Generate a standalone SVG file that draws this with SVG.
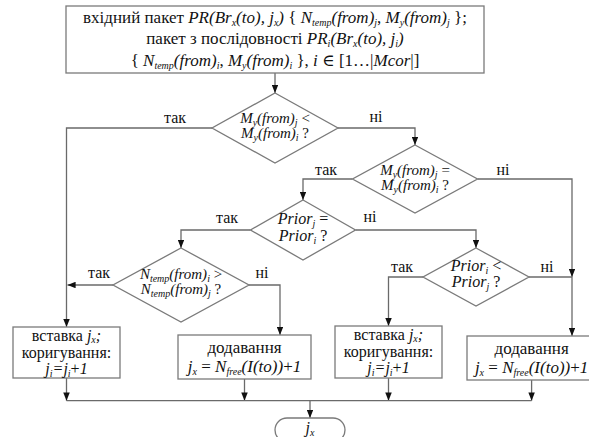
<svg xmlns="http://www.w3.org/2000/svg" width="589" height="437" viewBox="0 0 589 437" font-family="'Liberation Serif', 'DejaVu Serif', serif">
<style>
text { font-family: 'Liberation Serif', 'DejaVu Serif', serif; fill: #111; }
.f17 { font-size: 17px; }
.f16 { font-size: 16px; }
.f15 { font-size: 15px; }
.i { font-style: italic; }
.sb { font-size: 10px; }
.shape { fill: #fff; stroke: #7a7a7a; stroke-width: 1.3; }
.ln { fill: none; stroke: #6a6a6a; stroke-width: 1.3; }
.lab { font-size: 16px; text-anchor: middle; }
</style>
<defs>
<marker id="ah" viewBox="0 0 10 8" refX="10" refY="4" markerWidth="9" markerHeight="6.5" orient="auto" markerUnits="userSpaceOnUse">
<path d="M0,0 L10,4 L0,8 z" fill="#111"/>
</marker>
</defs>

<g id="connectors">
<path class="ln" d="M275,73 V93" marker-end="url(#ah)"/>
<path class="ln" d="M212,128 H66.5 V327" marker-end="url(#ah)"/>
<path class="ln" d="M338,128 H415 V145" marker-end="url(#ah)"/>
<path class="ln" d="M352.5,179 H303 V200" marker-end="url(#ah)"/>
<path class="ln" d="M477.5,179 H572 V277" marker-end="url(#ah)"/>
<path class="ln" d="M572,277 V336" marker-end="url(#ah)"/>
<path class="ln" d="M250.5,230 H181 V248" marker-end="url(#ah)"/>
<path class="ln" d="M355.5,230 H476 V248" marker-end="url(#ah)"/>
<path class="ln" d="M113,285 H67.5" marker-end="url(#ah)"/>
<path class="ln" d="M249,285 H280 V335" marker-end="url(#ah)"/>
<path class="ln" d="M423,277 H388.5 V326" marker-end="url(#ah)"/>
<path class="ln" d="M529,277 H572"/>
<path class="ln" d="M66.5,378 V400.7" marker-end="url(#ah)"/>
<path class="ln" d="M244.5,379 V400.7" marker-end="url(#ah)"/>
<path class="ln" d="M388.5,378 V400.7" marker-end="url(#ah)"/>
<path class="ln" d="M531.6,380 V400.7" marker-end="url(#ah)"/>
<path class="ln" d="M66.5,400.7 H531.6"/>
<path class="ln" d="M310,400.7 V418" marker-end="url(#ah)"/>
<text class="lab" x="175" y="123">так</text>
<text class="lab" x="376" y="122">ні</text>
<text class="lab" x="326" y="175">так</text>
<text class="lab" x="503" y="175">ні</text>
<text class="lab" x="227" y="223">так</text>
<text class="lab" x="370" y="222">ні</text>
<text class="lab" x="99" y="278">так</text>
<text class="lab" x="262" y="278">ні</text>
<text class="lab" x="402" y="272">так</text>
<text class="lab" x="547" y="272">ні</text>
</g>

<g id="start">
<rect class="shape" x="66" y="6" width="418" height="67"/>
<text class="f17" x="275" y="23" text-anchor="middle">вхідний пакет <tspan class="i">PR(Br</tspan><tspan class="i sb" dy="3">x</tspan><tspan class="i" dy="-3">(to), j</tspan><tspan class="i sb" dy="3">x</tspan><tspan class="i" dy="-3">)</tspan> { <tspan class="i">N</tspan><tspan class="i sb" dy="3">temp</tspan><tspan class="i" dy="-3">(from)</tspan><tspan class="i sb" dy="3">j</tspan><tspan dy="-3">, </tspan><tspan class="i">M</tspan><tspan class="i sb" dy="3">y</tspan><tspan class="i" dy="-3">(from)</tspan><tspan class="i sb" dy="3">j</tspan><tspan dy="-3"> };</tspan></text>
<text class="f17" x="275" y="44" text-anchor="middle">пакет з послідовності <tspan class="i">PR</tspan><tspan class="i sb" dy="3">i</tspan><tspan class="i" dy="-3">(Br</tspan><tspan class="i sb" dy="3">x</tspan><tspan class="i" dy="-3">(to), j</tspan><tspan class="i sb" dy="3">i</tspan><tspan class="i" dy="-3">)</tspan></text>
<text class="f17" x="275" y="66" text-anchor="middle">{ <tspan class="i">N</tspan><tspan class="i sb" dy="3">temp</tspan><tspan class="i" dy="-3">(from)</tspan><tspan class="i sb" dy="3">i</tspan><tspan dy="-3">, </tspan><tspan class="i">M</tspan><tspan class="i sb" dy="3">y</tspan><tspan class="i" dy="-3">(from)</tspan><tspan class="i sb" dy="3">i</tspan><tspan dy="-3"> }, </tspan><tspan class="i">i</tspan> ∈ [1…|<tspan class="i">Mcor</tspan>|]</text>
</g>

<g id="d1">
<polygon class="shape" points="275,93 338,128 275,163 212,128"/>
<text class="f15" x="275" y="123" text-anchor="middle"><tspan class="i">M</tspan><tspan class="i sb" dy="3">y</tspan><tspan class="i" dy="-3">(from)</tspan><tspan class="i sb" dy="3">j</tspan><tspan dy="-3"> &lt;</tspan></text>
<text class="f15" x="275" y="138" text-anchor="middle"><tspan class="i">M</tspan><tspan class="i sb" dy="3">y</tspan><tspan class="i" dy="-3">(from)</tspan><tspan class="i sb" dy="3">i</tspan><tspan dy="-3"> ?</tspan></text>
</g>

<g id="d2">
<polygon class="shape" points="415,145 477.5,179 415,213 352.5,179"/>
<text class="f15" x="415" y="175" text-anchor="middle"><tspan class="i">M</tspan><tspan class="i sb" dy="3">y</tspan><tspan class="i" dy="-3">(from)</tspan><tspan class="i sb" dy="3">j</tspan><tspan dy="-3"> =</tspan></text>
<text class="f15" x="415" y="190" text-anchor="middle"><tspan class="i">M</tspan><tspan class="i sb" dy="3">y</tspan><tspan class="i" dy="-3">(from)</tspan><tspan class="i sb" dy="3">i</tspan><tspan dy="-3"> ?</tspan></text>
</g>

<g id="d3">
<polygon class="shape" points="303,200 355.5,230 303,260 250.5,230"/>
<text class="f16" x="303" y="224" text-anchor="middle"><tspan class="i">Prior</tspan><tspan class="i sb" dy="3">j</tspan><tspan dy="-3"> =</tspan></text>
<text class="f16" x="303" y="241" text-anchor="middle"><tspan class="i">Prior</tspan><tspan class="i sb" dy="3">i</tspan><tspan dy="-3"> ?</tspan></text>
</g>

<g id="d4">
<polygon class="shape" points="181,248 249,285 181,322 113,285"/>
<text class="f15" x="181" y="279" text-anchor="middle"><tspan class="i">N</tspan><tspan class="i sb" dy="3">temp</tspan><tspan class="i" dy="-3">(from)</tspan><tspan class="i sb" dy="3">i</tspan><tspan dy="-3"> &gt;</tspan></text>
<text class="f15" x="181" y="294" text-anchor="middle"><tspan class="i">N</tspan><tspan class="i sb" dy="3">temp</tspan><tspan class="i" dy="-3">(from)</tspan><tspan class="i sb" dy="3">j</tspan><tspan dy="-3"> ?</tspan></text>
</g>

<g id="d5">
<polygon class="shape" points="476,248 529,277 476,306 423,277"/>
<text class="f16" x="476" y="271" text-anchor="middle"><tspan class="i">Prior</tspan><tspan class="i sb" dy="3">i</tspan><tspan dy="-3"> &lt;</tspan></text>
<text class="f16" x="476" y="287" text-anchor="middle"><tspan class="i">Prior</tspan><tspan class="i sb" dy="3">j</tspan><tspan dy="-3"> ?</tspan></text>
</g>

<g id="b1">
<rect class="shape" x="13" y="327" width="107" height="51"/>
<text class="f16" x="66.5" y="341" text-anchor="middle">вставка <tspan class="i">j</tspan><tspan class="i sb" dy="2">x</tspan><tspan class="i" dy="-2">;</tspan></text>
<text class="f16" x="66.5" y="358" text-anchor="middle">коригування:</text>
<text class="f16" x="66.5" y="374" text-anchor="middle"><tspan class="i">j</tspan><tspan class="i sb" dy="3">i</tspan><tspan class="i" dy="-3">=j</tspan><tspan class="i sb" dy="3">i</tspan><tspan dy="-3">+</tspan><tspan class="i">1</tspan></text>
</g>

<g id="b2">
<rect class="shape" x="178" y="335" width="133" height="44"/>
<text class="f17" x="244.5" y="353" text-anchor="middle">додавання</text>
<text class="f17" x="244.5" y="372" text-anchor="middle"><tspan class="i">j</tspan><tspan class="i sb" dy="3">x</tspan><tspan dy="-3"> = </tspan><tspan class="i">N</tspan><tspan class="i sb" dy="3">free</tspan><tspan class="i" dy="-3">(I(to))</tspan>+<tspan class="i">1</tspan></text>
</g>

<g id="b3">
<rect class="shape" x="335" y="326" width="107" height="52"/>
<text class="f16" x="388.5" y="340" text-anchor="middle">вставка <tspan class="i">j</tspan><tspan class="i sb" dy="2">x</tspan><tspan class="i" dy="-2">;</tspan></text>
<text class="f16" x="388.5" y="357" text-anchor="middle">коригування:</text>
<text class="f16" x="388.5" y="373" text-anchor="middle"><tspan class="i">j</tspan><tspan class="i sb" dy="3">i</tspan><tspan class="i" dy="-3">=j</tspan><tspan class="i sb" dy="3">i</tspan><tspan dy="-3">+</tspan><tspan class="i">1</tspan></text>
</g>

<g id="b4">
<rect class="shape" x="467" y="336" width="130" height="44"/>
<text class="f17" x="531.6" y="354" text-anchor="middle">додавання</text>
<text class="f17" x="531.6" y="373" text-anchor="middle"><tspan class="i">j</tspan><tspan class="i sb" dy="3">x</tspan><tspan dy="-3"> = </tspan><tspan class="i">N</tspan><tspan class="i sb" dy="3">free</tspan><tspan class="i" dy="-3">(I(to))</tspan>+<tspan class="i">1</tspan></text>
</g>

<g id="end">
<rect class="shape" x="275" y="418" width="70" height="24" rx="12"/>
<text class="f16" x="310" y="433" text-anchor="middle"><tspan class="i">j</tspan><tspan class="i sb" dy="3">x</tspan></text>
</g>
</svg>
